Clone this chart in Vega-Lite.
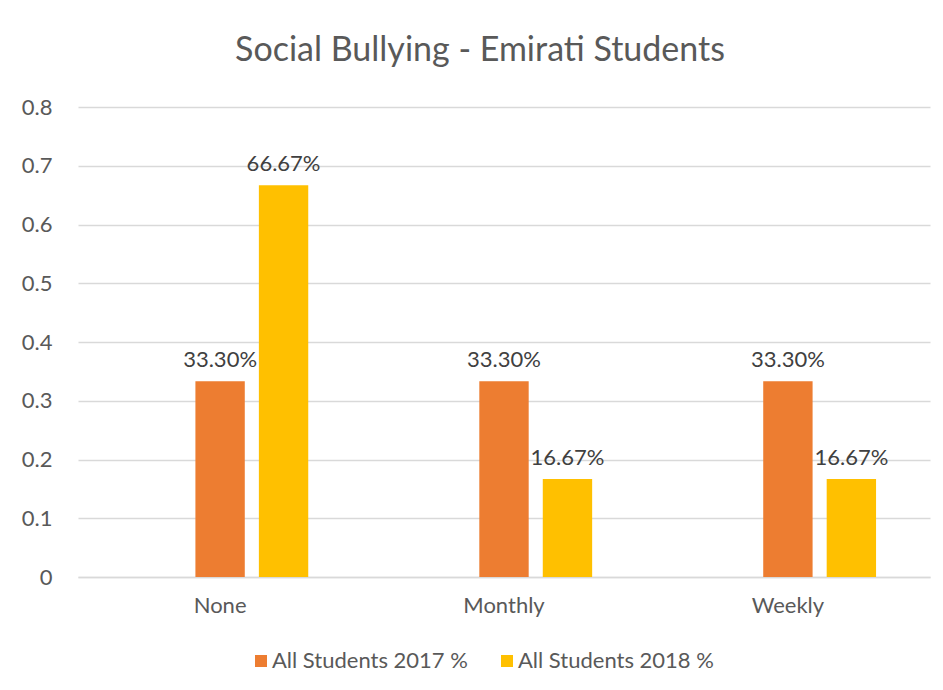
{
  "$schema": "https://vega.github.io/schema/vega-lite/v6.json",
  "autosize": "none",
  "width": 852,
  "height": 470,
  "padding": {"left": 78, "top": 107, "right": 13, "bottom": 113},
  "background": "white",
  "title": {
    "text": "Social Bullying - Emirati Students",
    "anchor": "middle",
    "frame": "group",
    "dx": -24,
    "offset": 28,
    "font": "Lato",
    "fontSize": 34,
    "fontWeight": "normal",
    "color": "#595959"
  },
  "data": {
    "values": [
      {"category": "None", "series": "All Students 2017 %", "value": 0.333},
      {"category": "None", "series": "All Students 2018 %", "value": 0.6667},
      {"category": "Monthly", "series": "All Students 2017 %", "value": 0.333},
      {"category": "Monthly", "series": "All Students 2018 %", "value": 0.1667},
      {"category": "Weekly", "series": "All Students 2017 %", "value": 0.333},
      {"category": "Weekly", "series": "All Students 2018 %", "value": 0.1667}
    ]
  },
  "encoding": {
    "x": {
      "field": "category",
      "type": "nominal",
      "sort": ["None", "Monthly", "Weekly"],
      "scale": {"paddingInner": 0.379, "paddingOuter": 0.19},
      "axis": {
        "title": null,
        "labelAngle": 0,
        "ticks": false,
        "domainColor": "#D9D9D9",
        "domainWidth": 1.5,
        "labelPadding": 18,
        "labelFont": "Lato",
        "labelFontSize": 22,
        "labelColor": "#595959"
      }
    },
    "xOffset": {
      "field": "series",
      "type": "nominal",
      "scale": {
        "domain": ["(blank)", "All Students 2017 %", "All Students 2018 %"],
        "paddingInner": 0.222,
        "paddingOuter": 0
      }
    },
    "y": {
      "field": "value",
      "type": "quantitative",
      "scale": {"domain": [0, 0.8], "nice": false},
      "axis": {
        "title": null,
        "tickCount": 8,
        "format": ".1~f",
        "domain": false,
        "ticks": false,
        "labelPadding": 26,
        "gridColor": "#D9D9D9",
        "gridWidth": 1.5,
        "labelFont": "Lato",
        "labelFontSize": 22,
        "labelColor": "#595959"
      }
    }
  },
  "layer": [
    {
      "mark": {"type": "bar"},
      "encoding": {
        "color": {
          "field": "series",
          "type": "nominal",
          "scale": {
            "domain": ["All Students 2017 %", "All Students 2018 %"],
            "range": ["#ED7D31", "#FFC000"]
          },
          "legend": {
            "title": null,
            "orient": "none",
            "direction": "horizontal",
            "legendX": 172,
            "legendY": 543,
            "symbolType": "square",
            "symbolSize": 144,
            "labelFont": "Lato",
            "labelFontSize": 22,
            "labelColor": "#595959",
            "labelLimit": 400,
            "columnPadding": 28,
            "labelOffset": 0
          }
        }
      }
    },
    {
      "mark": {
        "type": "text",
        "baseline": "bottom",
        "dy": -9,
        "font": "Lato",
        "fontSize": 22,
        "color": "#404040"
      },
      "encoding": {
        "text": {"field": "value", "type": "quantitative", "format": ".2%"}
      }
    }
  ],
  "config": {"view": {"stroke": null}}
}
